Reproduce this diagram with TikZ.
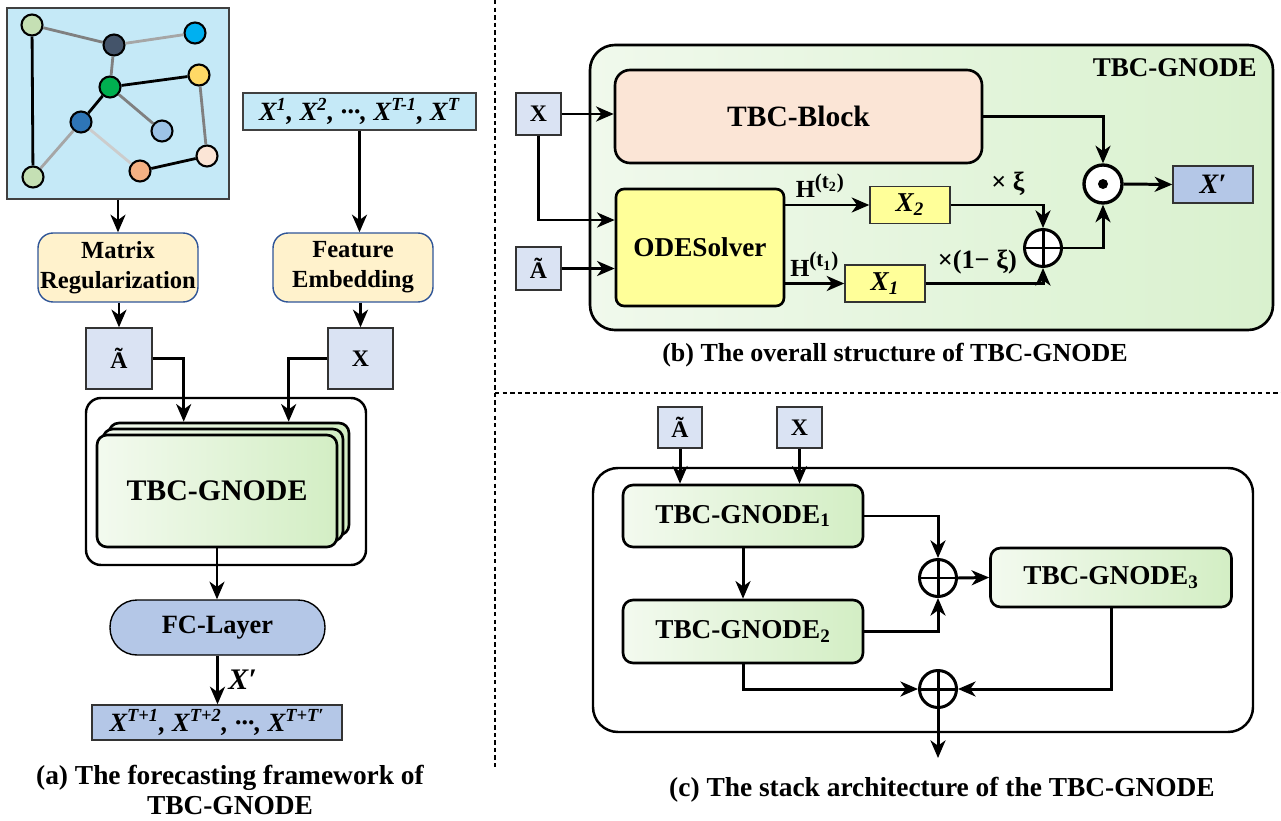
\documentclass[tikz,border=0pt]{standalone}
\usepackage{fontspec}
\setmainfont{Liberation Serif}
\usetikzlibrary{arrows.meta}
\definecolor{skyfill}{HTML}{C5E9F7}
\definecolor{inputfill}{HTML}{DAE3F3}
\definecolor{outfill}{HTML}{B4C7E7}
\definecolor{creamfill}{HTML}{FFF2CC}
\definecolor{blockfill}{HTML}{FBE5D6}
\definecolor{odefill}{HTML}{FFFF99}
\definecolor{greenL}{HTML}{F3FAEF}
\definecolor{greenR}{HTML}{D3EEC4}
\definecolor{bgL}{HTML}{F0F9EC}
\definecolor{bgR}{HTML}{D9F1CE}
\definecolor{modedge}{HTML}{2F5597}
\definecolor{ptA}{HTML}{C5E0B4}
\definecolor{ptB}{HTML}{44546A}
\definecolor{ptC}{HTML}{00B0F0}
\definecolor{ptD}{HTML}{00B050}
\definecolor{ptE}{HTML}{FFD966}
\definecolor{ptF}{HTML}{2E75B6}
\definecolor{ptG}{HTML}{9DC3E6}
\definecolor{ptH}{HTML}{FBE5D6}
\definecolor{ptI}{HTML}{F4B183}

\begin{document}
\begin{tikzpicture}[x=0.02cm,y=-0.02cm,
  every node/.style={font=\bfseries\fontsize{14}{17}\selectfont},
  conn/.style={line width=1.7pt,-{Stealth[length=10pt,width=8.5pt,inset=3pt]}},
  pt/.style={circle,draw,line width=1.2pt,minimum size=0.42cm,inner sep=0pt},
  sbox/.style={draw=black!80,line width=0.8pt,fill=inputfill,inner sep=0pt,font=\bfseries\fontsize{13.5}{15}\selectfont},
  ybox/.style={draw=black!80,line width=0.8pt,fill=odefill,inner sep=0pt,minimum height=0.74cm,font=\bfseries\itshape\fontsize{15.5}{17}\selectfont},
  mod/.style={draw=modedge,line width=0.8pt,fill=creamfill,rounded corners=0.3cm,align=center,minimum width=3.2cm,minimum height=1.38cm,inner sep=0pt},
  gnode/.style={draw,line width=1.5pt,rounded corners=0.2cm,left color=greenL,right color=greenR,inner sep=0pt,minimum width=4.8cm,font=\bfseries\fontsize{15.5}{18}\selectfont},
  plus/.style={circle,draw,line width=1.7pt,minimum size=0.74cm,inner sep=0pt,fill=white,
    path picture={\draw[line width=1.7pt] (path picture bounding box.north) -- (path picture bounding box.south) (path picture bounding box.west) -- (path picture bounding box.east);}},
  dotc/.style={circle,draw,line width=1.9pt,minimum size=0.76cm,inner sep=0pt,fill=white,
    path picture={\fill[black] (path picture bounding box.center) circle (0.1cm);}},
  captext/.style={align=center,font=\bfseries\fontsize{15.6}{17.5}\selectfont}]
  \useasboundingbox (0,0) rectangle (1281,821);

  \node[draw=black!75,line width=0.8pt,fill=skyfill,minimum width=4.44cm,minimum height=3.82cm,inner sep=0pt] (graph) at (118,103.5) {};
  \node[pt,fill=ptA] (g1) at (32,25) {};
  \node[pt,fill=ptB] (g2) at (114,45) {};
  \node[pt,fill=ptC] (g3) at (195,33) {};
  \node[pt,fill=ptD] (g4) at (110,87) {};
  \node[pt,fill=ptE] (g5) at (199,75) {};
  \node[pt,fill=ptF] (g6) at (81,122) {};
  \node[pt,fill=ptG] (g7) at (162,131) {};
  \node[pt,fill=ptH] (g8) at (207,156) {};
  \node[pt,fill=ptI] (g9) at (140,171) {};
  \node[pt,fill=ptA] (g10) at (33,177) {};
  \draw[line width=1.6pt,black!50] (g1) -- (g2) (g2) -- (g4) (g4) -- (g7) (g5) -- (g8);
  \draw[line width=1.6pt,black!35] (g2) -- (g3) (g6) -- (g10);
  \draw[line width=1.6pt,black!20] (g6) -- (g9);
  \draw[line width=1.6pt] (g4) -- (g5) (g4) -- (g6) (g1) -- (g10) (g9) -- (g8);

  \node[draw=black!75,line width=0.8pt,fill=skyfill,minimum width=4.66cm,minimum height=0.74cm,inner sep=0pt,font=\bfseries\itshape\fontsize{15}{17}\selectfont] (seq) at (359.5,111.5) {X\textsuperscript{1}, X\textsuperscript{2}, ···, X\textsuperscript{T-1}, X\textsuperscript{T}};
  \node[mod] (mr) at (118,267.5) {Matrix\\Regularization};
  \node[mod] (fe) at (353,267.5) {Feature\\Embedding};
  \node[sbox,minimum width=1.32cm,minimum height=1.22cm] (tA) at (119,358.5) {Ã};
  \node[sbox,minimum width=1.3cm,minimum height=1.22cm] (tX) at (360.5,358.5) {X};
  \draw[line width=1.4pt,rounded corners=0.3cm] (86,398) rectangle (366,565);
  \node[gnode,minimum height=2.24cm] (st3) at (229,479) {};
  \node[gnode,minimum height=2.24cm] (st2) at (223,485) {};
  \node[gnode,minimum height=2.24cm,font=\bfseries\fontsize{17}{20}\selectfont] (st1) at (217,491) {TBC-GNODE};
  \node[draw,line width=0.8pt,fill=outfill,rounded corners=0.54cm,minimum width=4.3cm,minimum height=1.1cm,inner sep=0pt,font=\bfseries\fontsize{15}{17}\selectfont] (fc) at (217.5,627.5) {FC-Layer};
  \node[draw=black!80,line width=0.8pt,fill=outfill,minimum width=5cm,minimum height=0.7cm,inner sep=0pt,font=\bfseries\itshape\fontsize{15}{17}\selectfont] (out) at (217,722.5) {X\textsuperscript{T+1}, X\textsuperscript{T+2}, ···, X\textsuperscript{T+T′}};
  \node[captext] (capA) at (230,790) {(a) The forecasting framework of\\TBC-GNODE};

  \draw[conn] (graph.south) -- (graph.south |- mr.north);
  \draw[conn] (seq.south) -- (seq.south |- fe.north);
  \draw[conn] (tA |- mr.south) -- (tA.north);
  \draw[conn] (tX |- fe.south) -- (tX.north);
  \draw[conn] (tA.east) -| ([xshift=1.52cm]st3.north west);
  \draw[conn] (tX.west) -| ([xshift=3.62cm]st3.north west);
  \draw[conn] (st1.south) -- (st1.south |- fc.north);
  \draw[conn] (fc.south) -- node[right=2pt,font=\bfseries\itshape\fontsize{17}{18}\selectfont] {X′} (fc.south |- out.north);

  \draw[line width=0.8pt,dash pattern=on 2.5pt off 1.8pt] (495,0) -- (495,768);
  \draw[line width=0.8pt,dash pattern=on 2.5pt off 1.8pt] (495,393) -- (1281,393);

  \draw[line width=1.5pt,rounded corners=0.5cm,left color=bgL,right color=bgR] (590,45) rectangle (1273,330);
  \node[anchor=east,inner sep=0pt,font=\bfseries\fontsize{15.4}{17}\selectfont] (titleB) at (1257,68) {TBC-GNODE};
  \node[sbox,minimum width=0.9cm,minimum height=0.84cm] (bX) at (538.5,114) {X};
  \node[sbox,minimum width=0.9cm,minimum height=0.86cm] (bA) at (538.5,268.5) {Ã};
  \node[draw,line width=1.5pt,fill=blockfill,rounded corners=0.3cm,minimum width=7.34cm,minimum height=1.86cm,inner sep=0pt,font=\bfseries\fontsize{16.8}{19}\selectfont] (blk) at (798.5,116.5) {TBC-Block};
  \node[draw,line width=1.5pt,fill=odefill,rounded corners=0.16cm,minimum width=3.36cm,minimum height=2.34cm,inner sep=0pt,font=\bfseries\fontsize{15.5}{18}\selectfont] (ode) at (700,247.5) {ODESolver};
  \node[ybox,minimum width=1.6cm] (x2) at (910,205) {X\textsubscript{2}};
  \node[ybox,minimum width=1.6cm] (x1) at (885,283.5) {X\textsubscript{1}};
  \node[plus] (opl) at (1043,248) {};
  \node[dotc] (odt) at (1103,184) {};
  \node[draw=black!80,line width=0.8pt,fill=outfill,minimum width=1.6cm,minimum height=0.74cm,inner sep=0pt,font=\bfseries\itshape\fontsize{16}{17}\selectfont] (xp) at (1213,184.5) {X′};
  \node[captext,font=\bfseries\fontsize{14.8}{17}\selectfont] (capB) at (895,355) {(b) The overall structure of TBC-GNODE};

  \draw[conn] (bX.east) -- (bX.east -| blk.west);
  \draw[conn] (bX.south) |- ([yshift=0.55cm]ode.west);
  \draw[conn] (bA.east) -- (bA.east -| ode.west);
  \draw[conn] (x2.west -| ode.east) -- node[above=0pt,xshift=-4pt] {H\textsuperscript{\fontsize{12}{13}\selectfont(t\textsubscript{2})}} (x2.west);
  \draw[conn] (x1.west -| ode.east) -- node[above=0pt] {H\textsuperscript{\fontsize{12}{13}\selectfont(t\textsubscript{1})}} (x1.west);
  \draw[conn] (x2.east) -| node[pos=0.31,above=1pt,font=\bfseries\fontsize{15}{17}\selectfont] {× ξ} (opl.north);
  \draw[conn] (x1.east) -| node[pos=0.22,above=1pt,font=\bfseries\fontsize{15}{17}\selectfont] {×(1− ξ)} (opl.south);
  \draw[conn] (blk.east) -| (odt.north);
  \draw[conn] (opl.east) -| (odt.south);
  \draw[conn] (odt.east) -- (xp.west);

  \node[sbox,minimum width=0.88cm,minimum height=0.82cm] (cA) at (680,427.5) {Ã};
  \node[sbox,minimum width=0.9cm,minimum height=0.82cm] (cX) at (799.5,427.5) {X};
  \draw[line width=1.4pt,rounded corners=0.5cm] (593,468) rectangle (1253,732);
  \node[gnode,minimum height=1.24cm] (g1b) at (743,516) {TBC-GNODE\textsubscript{1}};
  \node[gnode,minimum height=1.26cm] (g2b) at (743,631.5) {TBC-GNODE\textsubscript{2}};
  \node[gnode,minimum height=1.18cm,minimum width=4.82cm] (g3b) at (1111,577.5) {TBC-GNODE\textsubscript{3}};
  \node[plus] (op1) at (938,578) {};
  \node[plus] (op2) at (938,689) {};
  \coordinate (outC) at (938,758);
  \node[captext] (capC) at (942,790) {(c) The stack architecture of the TBC-GNODE};

  \draw[conn] (cA.south) -- (cA.south |- g1b.north);
  \draw[conn] (cX.south) -- (cX.south |- g1b.north);
  \draw[conn] (g1b.south) -- (g2b.north);
  \draw[conn] (g1b.east) -| (op1.north);
  \draw[conn] (g2b.east) -| (op1.south);
  \draw[conn] (op1.east) -- (g3b.west);
  \draw[conn] (g2b.south) |- (op2.west);
  \draw[conn] (g3b.south) |- (op2.east);
  \draw[conn] (op2.south) -- (outC);
\end{tikzpicture}
\end{document}
